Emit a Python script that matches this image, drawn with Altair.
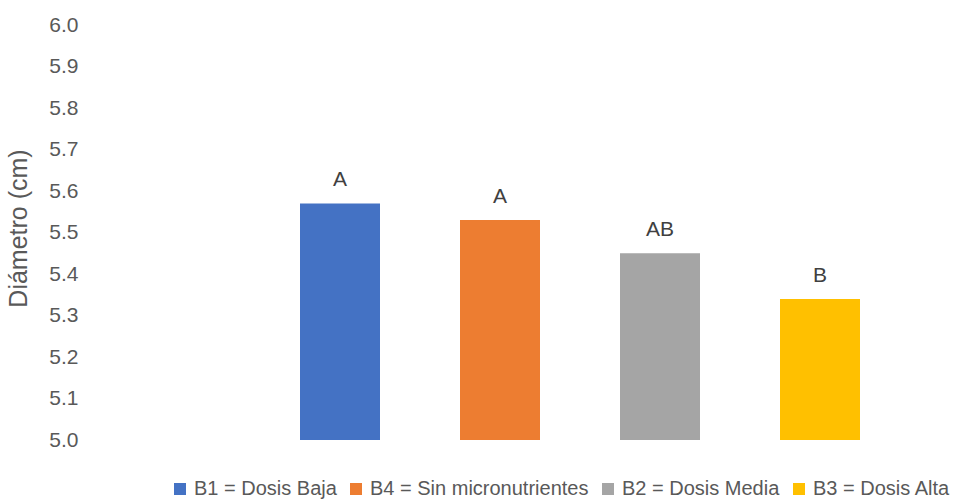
import altair as alt
import pandas as pd

# Treatments in display order, with the leading empty slot on the category axis
slots = ["", "B1", "B4", "B2", "B3"]
treatments = ["B1", "B4", "B2", "B3"]
legend_labels = [
    "B1 = Dosis Baja",
    "B4 = Sin micronutrientes",
    "B2 = Dosis Media",
    "B3 = Dosis Alta",
]
diameters = [5.57, 5.53, 5.45, 5.34]
groups = ["A", "A", "AB", "B"]
colors = ["#4472C4", "#ED7D31", "#A5A5A5", "#FFC000"]
y_ticks = [5.0, 5.1, 5.2, 5.3, 5.4, 5.5, 5.6, 5.7, 5.8, 5.9, 6.0]

df = pd.DataFrame(
    {
        "slot": treatments,
        "tratamiento": legend_labels,
        "diametro": diameters,
        "grupo": groups,
    }
)

FONT = "Liberation Sans"
GREY = "#595959"

x_enc = alt.X(
    "slot:N",
    scale=alt.Scale(domain=slots, paddingInner=0.5, paddingOuter=0.25),
    axis=None,
)
y_scale = alt.Scale(domain=[5.0, 6.0], zero=False, nice=False)

bars = alt.Chart(df).mark_bar().encode(
    x=x_enc,
    y=alt.Y(
        "diametro:Q",
        scale=y_scale,
        axis=alt.Axis(
            values=y_ticks,
            format=".1f",
            title="Diámetro (cm)",
            grid=False,
            domain=False,
            ticks=False,
            labelFont=FONT,
            labelFontSize=21,
            labelColor=GREY,
            labelPadding=22,
            titleFont=FONT,
            titleFontSize=25,
            titleFontWeight="normal",
            titleColor=GREY,
            titleX=-69,
            titleY=203,
        ),
    ),
    y2=alt.datum(5.0),
    color=alt.Color(
        "tratamiento:N",
        scale=alt.Scale(domain=legend_labels, range=colors),
        sort=legend_labels,
        legend=alt.Legend(
            title=None,
            orient="none",
            direction="horizontal",
            legendX=70,
            legendY=454,
            symbolType="square",
            symbolSize=144,
            symbolStrokeWidth=0,
            labelFont=FONT,
            labelFontSize=20,
            labelColor=GREY,
            labelOffset=4,
            columnPadding=9,
            labelLimit=400,
        ),
    ),
)

labels = alt.Chart(df).mark_text(
    font=FONT, fontSize=21, color="#404040", baseline="alphabetic", dy=-17
).encode(
    x=x_enc,
    y=alt.Y("diametro:Q", scale=y_scale),
    text="grupo:N",
)

chart = (
    alt.layer(bars, labels)
    .properties(
        width=800,
        height=415,
        background="white",
        autosize=alt.AutoSizeParams(type="none"),
        padding={"left": 100, "top": 25, "right": 57, "bottom": 59},
    )
    .configure_view(stroke=None, strokeWidth=0)
)

chart.save("out.html", embed_options={"renderer": "svg", "actions": False})
